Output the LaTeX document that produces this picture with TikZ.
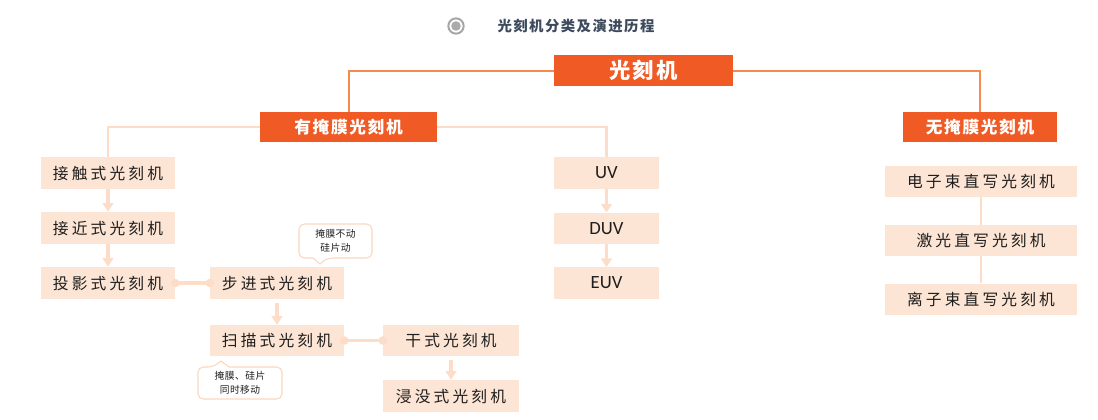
\documentclass[tikz,border=0pt]{standalone}
\usepackage{fontspec}
\setmainfont{Carlito}
\newfontfamily\cjk{Noto Sans CJK SC}[LetterSpace=20]
\newfontfamily\cjkt{Noto Sans CJK SC}[LetterSpace=10]
\newfontfamily\cjkc{Noto Sans CJK SC}[LetterSpace=5]
\newfontfamily\latin{Carlito}
\usetikzlibrary{arrows.meta,calc}
\definecolor{org}{HTML}{F05A24}
\definecolor{orgline}{HTML}{F68B50}
\definecolor{pale}{HTML}{FDE5D5}
\definecolor{paleline}{HTML}{FDDCC8}
\definecolor{callb}{HTML}{FAD6C0}
\definecolor{titlec}{HTML}{3E4A5E}
\definecolor{txt}{HTML}{1E1E1E}
\tikzset{
  obox/.style={fill=org, text=white, inner sep=0pt, font=\cjkt\bfseries\fontsize{12.5}{14}\selectfont},
  lbox/.style={fill=pale, text=txt, inner sep=0pt, minimum height=24pt, font=\cjk\fontsize{11.8}{13}\selectfont},
  ubox/.style={fill=pale, text=txt, inner sep=0pt, minimum width=78.75pt, minimum height=23.5pt, font=\latin\fontsize{14}{16}\selectfont},
  tline/.style={draw=orgline, line width=1.5pt},
  pline/.style={draw=paleline, line width=1.9pt},
  parrow/.style={draw=paleline, line width=2.4pt, -{Triangle[width=8pt,length=6.5pt]}},
  callout/.style={draw=callb, line width=0.8pt, rounded corners=4pt},
  calltxt/.style={text=txt, align=center, inner sep=0pt, font=\cjkc\fontsize{7.3}{10.5}\selectfont},
}
\begin{document}
\begin{tikzpicture}[x=0.75pt,y=-0.75pt]
\useasboundingbox (0,0) rectangle (1098,419);
% title
\node[circle, draw=black!35, line width=1.5pt, minimum size=11.5pt, inner sep=0pt] (icon) at (456,26) {};
\fill[black!33] (icon.center) circle (3.6pt);
\node[text=titlec, font=\cjkt\bfseries\fontsize{10.8}{12}\selectfont, inner sep=0pt] (title) at (576,26) {光刻机分类及演进历程};
% top level
\node[obox, minimum width=134.25pt, minimum height=23.25pt, font=\cjkt\bfseries\fontsize{16}{18}\selectfont] (top) at (643.5,70.5) {光刻机};
\node[obox, minimum width=132.75pt, minimum height=22.5pt] (mask) at (348.5,127) {有掩膜光刻机};
\node[obox, minimum width=115.5pt, minimum height=22.5pt] (nomask) at (980,127) {无掩膜光刻机};
\draw[tline] (top.west) -| (mask.north);
\draw[tline] (top.east) -| (nomask.north);
% left column
\node[lbox, minimum width=100.5pt] (c1) at (108,173) {接触式光刻机};
\node[lbox, minimum width=100.5pt] (c2) at (108,228) {接近式光刻机};
\node[lbox, minimum width=100.5pt] (c3) at (108,283) {投影式光刻机};
\node[lbox, minimum width=100.5pt] (s1) at (277,283) {步进式光刻机};
\node[lbox, minimum width=100.5pt, minimum height=23.25pt] (s2) at (277,340.5) {扫描式光刻机};
\node[lbox, minimum width=102pt, minimum height=23.25pt] (d1) at (451,340.5) {干式光刻机};
\node[lbox, minimum width=102pt] (d2) at (451,396) {浸没式光刻机};
% UV column
\node[ubox] (u1) at (606.5,173) {UV};
\node[ubox] (u2) at (606.5,228.5) {DUV};
\node[ubox] (u3) at (606.5,283) {EUV};
% right column
\node[lbox, minimum width=144pt, minimum height=23.25pt] (e1) at (981,181.5) {电子束直写光刻机};
\node[lbox, minimum width=144pt, minimum height=23.25pt] (e2) at (981,240.5) {激光直写光刻机};
\node[lbox, minimum width=144pt, minimum height=23.25pt] (e3) at (981,299) {离子束直写光刻机};
% connectors
\draw[pline] (mask.west) -| (c1.north);
\draw[pline] (mask.east) -| (u1.north);
\draw[parrow] (c1.south) -- (c2.north);
\draw[parrow] (c2.south) -- (c3.north);
\draw[parrow] ([yshift=-3pt]s1.south) -- (s2.north);
\draw[parrow] ([yshift=-3pt]d1.south) -- (d2.north);
\draw[parrow] (u1.south) -- (u2.north);
\draw[parrow] (u2.south) -- (u3.north);
\draw[pline] (e1.south) -- (e2.north);
\draw[pline] (e2.south) -- (e3.north);
\draw[draw=paleline, line width=2.4pt] (c3.east) -- (s1.west);
\fill[paleline] (c3.east) circle (3.2pt) (s1.west) circle (3.2pt);
\draw[draw=paleline, line width=2.4pt] (s2.east) -- (d1.west);
\fill[paleline] (s2.east) circle (3.2pt) (d1.west) circle (3.2pt);
% callouts
\node[calltxt] (k1) at (335.5,241) {掩膜不动\\硅片动};
\draw[callout] (299,224) -- (372,224) -- (372,258) -- (327,258) [sharp corners] -- (320,264) -- (313,258) [rounded corners=4pt] -- (299,258) -- cycle;
\node[calltxt] (k2) at (240,383) {掩膜、硅片\\同时移动};
\draw[callout] (198,367) -- (213,367) [sharp corners] -- (221,361) -- (229,367) [rounded corners=4pt] -- (282,367) -- (282,399) -- (198,399) -- cycle;
\end{tikzpicture}
\end{document}
